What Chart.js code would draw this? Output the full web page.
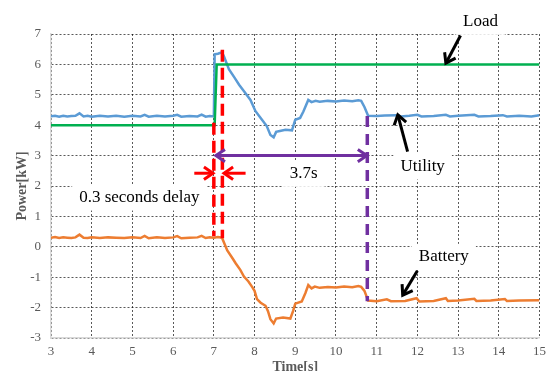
<!DOCTYPE html>
<html>
<head>
<meta charset="utf-8">
<script src="https://cdn.jsdelivr.net/npm/chart.js@4.4.1/dist/chart.umd.min.js"></script>
<style>
  html, body { margin: 0; padding: 0; background: #fff; }
</style>
</head>
<body>
<canvas id="powerChart" width="552" height="371"></canvas>
<script>
// axis ranges / ticks
var xMin = 3, xMax = 15;
var yMin = -3, yMax = 7;

// Utility [kW]
var utilityT = [3.0,3.1,3.2,3.3,3.4,3.5,3.6,3.7,3.8,3.9,4.0,4.2,4.4,4.6,4.8,5.0,5.2,5.3,5.4,5.6,5.8,6.0,6.1,6.2,6.4,6.6,6.7,6.8,6.9,7.0,
  7.02,7.1,7.2,7.25,7.37,7.5,7.62,7.75,7.9,8.02,8.15,8.3,8.39,8.47,8.53,8.65,8.76,8.92,9.0,9.12,9.2,9.32,9.4,9.5,9.6,9.8,10.0,10.2,10.4,10.55,10.62,10.7,10.79,
  11.0,11.2,11.5,11.6,11.8,12.0,12.1,12.4,12.7,12.8,13.0,13.4,13.5,13.8,14.1,14.2,14.5,14.8,15.0];
var utilityP = [4.29,4.31,4.28,4.31,4.29,4.30,4.31,4.39,4.29,4.31,4.28,4.31,4.29,4.31,4.28,4.31,4.29,4.34,4.28,4.31,4.29,4.31,4.34,4.28,4.30,4.29,4.35,4.28,4.30,4.29,
  6.33,6.35,6.40,6.26,5.84,5.58,5.33,5.10,4.83,4.47,4.24,3.97,3.68,3.60,3.78,3.82,3.85,3.83,4.18,4.24,4.45,4.83,4.76,4.80,4.77,4.80,4.78,4.81,4.79,4.82,4.80,4.60,4.31,
  4.30,4.32,4.33,4.29,4.31,4.34,4.29,4.30,4.34,4.29,4.31,4.34,4.29,4.30,4.33,4.29,4.31,4.29,4.33];

// Battery [kW]
var batteryT = [3.0,3.1,3.2,3.3,3.4,3.5,3.6,3.7,3.8,3.9,4.0,4.2,4.4,4.6,4.8,5.0,5.2,5.3,5.4,5.6,5.8,6.0,6.1,6.2,6.4,6.6,6.7,6.8,6.9,7.0,7.1,7.2,
  7.33,7.45,7.54,7.65,7.74,7.85,7.94,8.0,8.06,8.15,8.27,8.33,8.39,8.47,8.53,8.7,8.88,8.95,9.0,9.16,9.25,9.32,9.4,9.48,9.6,9.8,10.0,10.2,10.4,10.55,10.62,10.7,10.79,
  11.0,11.25,11.35,11.7,11.98,12.05,12.4,12.7,12.75,13.0,13.4,13.45,13.8,14.15,14.2,14.5,15.0];
var batteryP = [0.30,0.32,0.29,0.31,0.30,0.29,0.31,0.40,0.30,0.29,0.31,0.29,0.31,0.30,0.29,0.31,0.29,0.36,0.28,0.31,0.29,0.31,0.35,0.28,0.30,0.31,0.36,0.29,0.31,0.30,0.32,0.30,
  -0.12,-0.36,-0.55,-0.76,-0.98,-1.14,-1.32,-1.45,-1.72,-1.84,-1.94,-2.12,-2.38,-2.52,-2.36,-2.33,-2.36,-2.10,-1.87,-1.80,-1.52,-1.26,-1.37,-1.31,-1.35,-1.32,-1.34,-1.31,-1.33,-1.29,-1.32,-1.45,-1.77,
  -1.79,-1.73,-1.79,-1.78,-1.69,-1.80,-1.78,-1.69,-1.78,-1.77,-1.71,-1.78,-1.77,-1.72,-1.78,-1.77,-1.76];

// Load [kW]
var loadT = [3.0, 7.02, 7.07, 15.0];
var loadP = [4.0, 4.0, 6.0, 6.0];

function toPoints(t, p) {
  return t.map(function (v, i) { return { x: v, y: p[i] }; });
}

// annotations (data coordinates)
var dashLines = [
  { x: 7.0,   y1: 4.08, y2: 0.35, color: '#FF0000', dash: [12, 6] },
  { x: 7.21,  y1: 6.48, y2: 0.28, color: '#FF0000', dash: [12, 6] },
  { x: 10.77, y1: 4.3,  y2: -1.79, color: '#7030A0', dash: [11, 7] }
];
var arrows = [
  { x1: 6.52, y1: 2.42, x2: 6.98, y2: 2.42, color: '#FF0000', both: false },
  { x1: 7.78, y1: 2.42, x2: 7.25, y2: 2.42, color: '#FF0000', both: false },
  { x1: 7.05, y1: 3.0, x2: 10.76, y2: 3.0, color: '#7030A0', both: true },
  { x1: 13.06, y1: 6.95, x2: 12.70, y2: 6.04, color: '#000000', both: false },
  { x1: 11.76, y1: 3.13, x2: 11.52, y2: 4.34, color: '#000000', both: false },
  { x1: 12.0, y1: -0.79, x2: 11.64, y2: -1.59, color: '#000000', both: false }
];
var notes = [
  { text: 'Load', x: 13.55, y: 7.40 },
  { text: 'Utility', x: 12.13, y: 2.64 },
  { text: 'Battery', x: 12.65, y: -0.33 },
  { text: '3.7s', x: 9.21, y: 2.40 },
  { text: '0.3 seconds delay', x: 5.17, y: 1.62 }
];

var tickFont = { family: '"Liberation Serif", "Times New Roman", serif', size: 13 };

function head(ctx, fx, fy, tx, ty) {
  var a = Math.atan2(ty - fy, tx - fx);
  var len = 11, spread = 0.6;
  ctx.beginPath();
  ctx.moveTo(tx - len * Math.cos(a - spread), ty - len * Math.sin(a - spread));
  ctx.lineTo(tx, ty);
  ctx.lineTo(tx - len * Math.cos(a + spread), ty - len * Math.sin(a + spread));
  ctx.stroke();
}

var overlay = {
  id: 'overlay',
  afterDraw: function (chart) {
    var ctx = chart.ctx, xs = chart.scales.x, ys = chart.scales.y;
    ctx.save();

    // text boxes
    ctx.font = '17px "Liberation Serif", "Times New Roman", serif';
    ctx.textAlign = 'center';
    ctx.textBaseline = 'middle';
    notes.forEach(function (n) {
      var px = xs.getPixelForValue(n.x), py = ys.getPixelForValue(n.y);
      var w = ctx.measureText(n.text).width;
      ctx.fillStyle = '#fff';
      ctx.fillRect(px - w / 2 - 7, py - 13, w + 14, 26);
      ctx.fillStyle = '#000';
      ctx.fillText(n.text, px, py);
    });

    // dashed markers
    ctx.lineWidth = 3.5;
    dashLines.forEach(function (d) {
      ctx.setLineDash(d.dash);
      ctx.strokeStyle = d.color;
      var px = xs.getPixelForValue(d.x);
      ctx.beginPath();
      ctx.moveTo(px, ys.getPixelForValue(d.y1));
      ctx.lineTo(px, ys.getPixelForValue(d.y2));
      ctx.stroke();
    });
    ctx.setLineDash([]);

    // arrows
    ctx.lineWidth = 3;
    ctx.lineCap = 'butt';
    arrows.forEach(function (a) {
      var fx = xs.getPixelForValue(a.x1), fy = ys.getPixelForValue(a.y1);
      var tx = xs.getPixelForValue(a.x2), ty = ys.getPixelForValue(a.y2);
      ctx.strokeStyle = a.color;
      ctx.beginPath();
      ctx.moveTo(fx, fy);
      ctx.lineTo(tx, ty);
      ctx.stroke();
      head(ctx, fx, fy, tx, ty);
      if (a.both) head(ctx, tx, ty, fx, fy);
    });

    // axis titles
    ctx.fillStyle = '#595959';
    ctx.font = 'bold 14px "Liberation Serif", "Times New Roman", serif';
    ctx.fillText('Time[s]', (chart.chartArea.left + chart.chartArea.right) / 2, 367);
    ctx.translate(22, 186);
    ctx.rotate(-Math.PI / 2);
    ctx.fillText('Power[kW]', 0, 0);
    ctx.restore();
  }
};

var ctxP = document.getElementById('powerChart');
var powerChart = new Chart(ctxP, {
  type: 'line',
  data: {
    datasets: [
      { label: 'Load', data: toPoints(loadT, loadP), borderColor: '#00B050', borderWidth: 2.5 },
      { label: 'Utility', data: toPoints(utilityT, utilityP), borderColor: '#5B9BD5', borderWidth: 2.5 },
      { label: 'Battery', data: toPoints(batteryT, batteryP), borderColor: '#ED7D31', borderWidth: 2.5 }
    ]
  },
  options: {
    responsive: false,
    animation: false,
    events: [],
    elements: { point: { radius: 0 }, line: { tension: 0 } },
    layout: { padding: { left: 0, right: 9, top: 34, bottom: 0 } },
    plugins: { legend: { display: false }, tooltip: { enabled: false } },
    scales: {
      x: {
        type: 'linear', min: xMin, max: xMax,
        ticks: { stepSize: 1, color: '#595959', font: tickFont, padding: 6, maxRotation: 0 },
        grid: { color: 'rgba(0,0,0,0.65)', drawTicks: false },
        border: { display: true, color: '#d9d9d9', width: 1.5, dash: [2, 2] },
        afterFit: function (s) { s.height = 33; }
      },
      y: {
        min: yMin, max: yMax,
        ticks: { stepSize: 1, color: '#595959', font: tickFont, padding: 10 },
        grid: { color: 'rgba(0,0,0,0.65)', drawTicks: false },
        border: { display: true, color: '#d9d9d9', width: 1.5, dash: [2, 2] },
        afterFit: function (s) { s.width = 51; }
      }
    }
  },
  plugins: [overlay]
});
</script>
</body>
</html>
